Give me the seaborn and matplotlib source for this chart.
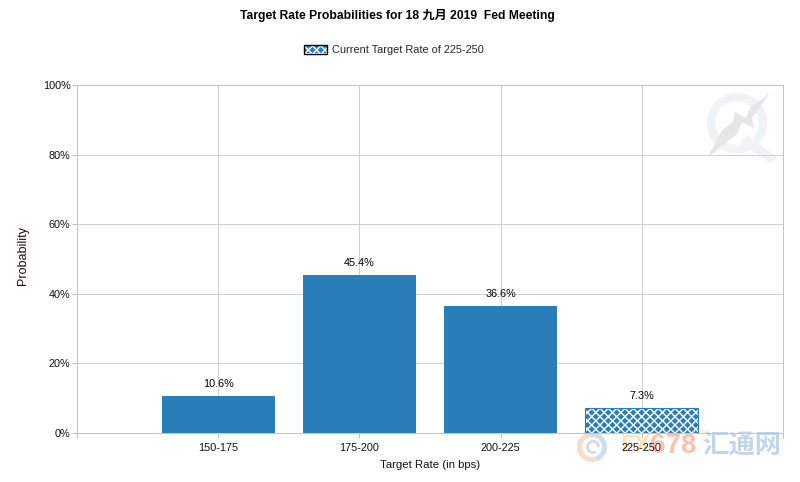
"""
Target rate probabilities bar chart.
"""
import pandas
import seaborn as sns
import matplotlib
from matplotlib import pyplot as plt
from matplotlib.patches import Circle, Patch, Polygon, Wedge

matplotlib.use('Agg')

categories = ['150-175', '175-200', '200-225', '225-250']
probabilities = [10.6, 45.4, 36.6, 7.3]
current_rate = '225-250'
y_ticks = [0, 20, 40, 60, 80, 100]

BLUE = '#2a7fb8'
GREY = '#cfcfcf'
W, H = 800, 482


def fx(px):
    return px / W


def fy(py):
    return 1 - py / H


sns.set_style("white")
plt.rcParams['font.family'] = ['Liberation Sans', 'Noto Sans CJK SC', 'DejaVu Sans']
plt.rcParams['hatch.linewidth'] = 1.0
plt.rcParams['font.size'] = 7.6

df = pandas.DataFrame({'rate': categories, 'prob': probabilities})

f = plt.figure(figsize=(8, 4.82), dpi=100)
ax = f.add_axes([fx(77), fy(433), 706 / W, 348 / H])
ax.patch.set_alpha(0)
ax.set_axisbelow(True)

sns.barplot(data=df, x='rate', y='prob', color=BLUE, saturation=1, width=0.8, linewidth=0, ax=ax)

# hatch the bar of the current rate, then put a blue outline back on it
cur = categories.index(current_rate)
current = ax.patches[cur]
current.set_hatch('xxxx')
current.set_edgecolor('white')
current.set_linewidth(0)
ax.bar([cur], [probabilities[cur]], width=0.8, fill=False, edgecolor=BLUE, linewidth=0.8)

for i, v in enumerate(probabilities):
    ax.annotate('%.1f%%' % v, (i, v), xytext=(0, 5), textcoords='offset points',
                ha='center', va='bottom', color='black', fontsize=7.8)

ax.set_xlim(-1, 4)
ax.set_ylim(0, 100)
ax.set_xticks(range(-1, 5), [''] + categories + [''])
ax.set_yticks(y_ticks, ['%d%%' % t for t in y_ticks])
ax.grid(True, color=GREY, linewidth=0.75)
ax.tick_params(axis='both', length=3.6, width=0.75, color='#c0c0c0', labelsize=7.8, labelcolor='#111111',
               left=True, bottom=True, pad=1)
ax.tick_params(axis='x', pad=3.5)
for name, spine in ax.spines.items():
    spine.set_color('#c4c4c4')
    spine.set_linewidth(0.75)
    spine.set_visible(True)
ax.set_xlabel('')
ax.set_ylabel('')

f.text(fx(397), fy(16), 'Target Rate Probabilities for 18 九月 2019  Fed Meeting',
       ha='center', va='center', fontweight='bold', fontsize=8.7, color='black')
f.text(fx(430), fy(465), 'Target Rate (in bps)', ha='center', va='center', fontsize=8.2, color='#111111')
f.text(fx(23), fy(255.5), 'Probability', ha='center', va='center', rotation=90, fontsize=9, color='#200a14')

handle = Patch(facecolor=BLUE, edgecolor='white', hatch='xxxx', linewidth=0)
leg = ax.legend(handles=[handle], labels=['Current Target Rate of 225-250'], loc='center',
                bbox_to_anchor=(fx(394), fy(50)), bbox_transform=f.transFigure, frameon=False,
                fontsize=7.9, handlelength=2.1, handleheight=0.8, handletextpad=0.45)
f.add_artist(plt.Rectangle((fx(304), fy(54)), 23 / W, 9 / H, transform=f.transFigure,
                           fill=False, edgecolor='black', linewidth=1.0))

# watermark, upper right: Q with a lightning bolt
px_art = dict(transform=None, zorder=-1)
f.add_artist(Circle((737, H - 123), 26, fill=False, edgecolor='#f0f3f6', linewidth=6, **px_art))
f.add_artist(Polygon([(748, H - 135), (778, H - 158), (770, H - 163), (740, H - 142)], closed=True,
                     facecolor='#f0f3f6', edgecolor='none', **px_art))
f.add_artist(Polygon([(770, H - 93), (752, H - 118), (754, H - 128), (742, H - 122), (737, H - 134), (708, H - 157),
                      (722, H - 130), (733, H - 122), (735, H - 112), (746, H - 118), (750, H - 108)],
                     closed=True, facecolor='#e6e6e6', edgecolor='none', **px_art))

# watermark, lower right: FX678 logo
f.add_artist(Wedge((592, H - 447), 15, 100, 290, width=5, facecolor='#fbdcc8', edgecolor='none', **px_art))
f.add_artist(Wedge((592, H - 447), 15, 290, 460, width=5, facecolor='#cfdeee', edgecolor='none', **px_art))
f.add_artist(Wedge((593, H - 447), 7, 0, 300, width=3, facecolor='#d4dde6', edgecolor='none', **px_art))
f.text(fx(620), fy(446), 'FX', ha='left', va='center', fontsize=17, fontweight='bold', color='#ffe2b8', zorder=-1)
f.text(fx(650), fy(446), '678', ha='left', va='center', fontsize=20, fontweight='bold', color='#ffc0b0', zorder=-1)
f.text(fx(702), fy(446), '汇通网', ha='left', va='center', fontsize=19, fontweight='bold', color='#c2d6ea',
       family=['Noto Sans CJK SC', 'DejaVu Sans'], zorder=-1)

f.savefig('out.png', dpi=100)
